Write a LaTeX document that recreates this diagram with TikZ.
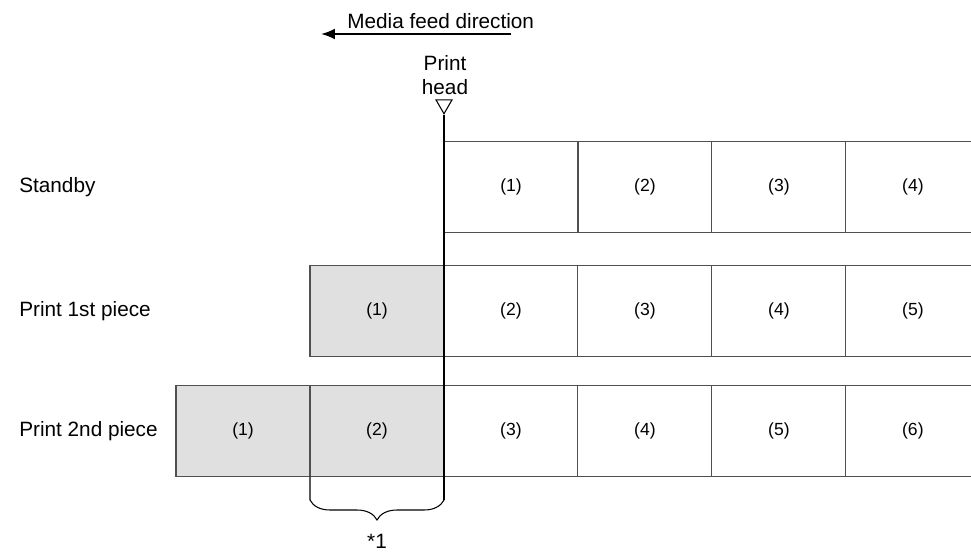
\documentclass[tikz,border=0pt]{standalone}
\usepackage{fontspec}
\setmainfont{Liberation Sans}
\usepackage{tikz}
\usetikzlibrary{arrows.meta,positioning,shapes.geometric,decorations.pathreplacing}
\definecolor{edge}{HTML}{505050}
\definecolor{done}{HTML}{E0E0E0}

\begin{document}
\begin{tikzpicture}[x=0.02cm,y=-0.02cm,
  cell/.style={draw=edge,line width=0.6pt,minimum width=2.68cm,minimum height=1.82cm,inner sep=0pt,outer sep=0pt,font=\fontsize{10}{12}\selectfont},
  used/.style={cell,fill=done},
  rowlb/.style={anchor=west,inner sep=0pt,font=\fontsize{11.8}{14}\selectfont},
  ar/.style={-{Latex[length=2.8mm,width=2.2mm]},line width=1.2pt},
  hd/.style={line width=0.6pt},
  lb/.style={font=\fontsize{11.8}{14}\selectfont}]
  \useasboundingbox (0,0) rectangle (971,552);
  % row labels
  \node[rowlb] (sb) at (19,187) {Standby};
  \node[rowlb] (p1) at (19,311) {Print 1st piece};
  \node[rowlb] (p2) at (19,431) {Print 2nd piece};
  % standby
  \node[cell] (a1) at (511,187) {(1)};
  \node[cell,right=0pt of a1] (a2) {(2)};
  \node[cell,right=0pt of a2] (a3) {(3)};
  \node[cell,right=0pt of a3] (a4) {(4)};
  % 1st piece
  \node[used] (b1) at (377,311) {(1)};
  \node[cell,right=0pt of b1] (b2) {(2)};
  \node[cell,right=0pt of b2] (b3) {(3)};
  \node[cell,right=0pt of b3] (b4) {(4)};
  \node[cell,right=0pt of b4] (b5) {(5)};
  % 2nd piece
  \node[used] (c1) at (243,431) {(1)};
  \node[used,right=0pt of c1] (c2) {(2)};
  \node[cell,right=0pt of c2] (c3) {(3)};
  \node[cell,right=0pt of c3] (c4) {(4)};
  \node[cell,right=0pt of c4] (c5) {(5)};
  \node[cell,right=0pt of c5] (c6) {(6)};
  % feed direction
  \coordinate (fs) at (511,34);
  \coordinate (fe) at (321,34);
  \draw[ar] (fs) -- node[lb,above,pos=0.37,inner sep=2.5pt] (feed) {Media feed direction} (fe);
  % print head
  \node[lb,align=center] (phead) at (445,75) {Print\\head};
  \node[draw,regular polygon,regular polygon sides=3,shape border rotate=180,minimum size=0.37cm,inner sep=0pt,line width=0.6pt] (tri) at (444,104.5) {};
  \coordinate (hbot) at (444,500);
  \coordinate (bl) at (310,500);
  \draw[hd] (tri.corner 1) -- (hbot);
  \draw[hd] (c2.south west) -- (bl);
  \draw[hd,decorate,decoration={brace,mirror,amplitude=4mm}] (bl) -- (hbot);
  \node[lb] (star) at (377,541) {*1};
\end{tikzpicture}
\end{document}
